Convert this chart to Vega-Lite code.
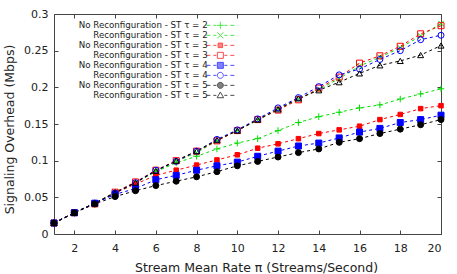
{
  "$schema": "https://vega.github.io/schema/vega-lite/v6.json",
  "width": 387,
  "height": 220,
  "autosize": {"type": "none"},
  "padding": {"left": 54, "top": 14, "right": 16, "bottom": 40},
  "config": {
    "font": "DejaVu Sans",
    "view": {"stroke": "#444", "strokeWidth": 1},
    "axis": {"labelFont": "DejaVu Sans", "titleFont": "DejaVu Sans", "labelColor": "#222", "titleColor": "#222", "tickColor": "#444", "labelFontSize": 11, "titleFontSize": 12.5, "titleFontWeight": "normal", "grid": false, "domain": false, "tickSize": -4},
    "legend": {"labelFont": "DejaVu Sans", "labelFontSize": 8.7, "labelColor": "#222", "padding": 0, "offset": 0}
  },
  "data": {"values": [
    {"x":1,"s":"No Reconfiguration - ST τ = 2","v":0.015},{"x":2,"s":"No Reconfiguration - ST τ = 2","v":0.029},{"x":3,"s":"No Reconfiguration - ST τ = 2","v":0.042},{"x":4,"s":"No Reconfiguration - ST τ = 2","v":0.057},{"x":5,"s":"No Reconfiguration - ST τ = 2","v":0.070},{"x":6,"s":"No Reconfiguration - ST τ = 2","v":0.085},{"x":7,"s":"No Reconfiguration - ST τ = 2","v":0.097},{"x":8,"s":"No Reconfiguration - ST τ = 2","v":0.106},{"x":9,"s":"No Reconfiguration - ST τ = 2","v":0.116},{"x":10,"s":"No Reconfiguration - ST τ = 2","v":0.124},{"x":11,"s":"No Reconfiguration - ST τ = 2","v":0.130},{"x":12,"s":"No Reconfiguration - ST τ = 2","v":0.141},{"x":13,"s":"No Reconfiguration - ST τ = 2","v":0.152},{"x":14,"s":"No Reconfiguration - ST τ = 2","v":0.160},{"x":15,"s":"No Reconfiguration - ST τ = 2","v":0.166},{"x":16,"s":"No Reconfiguration - ST τ = 2","v":0.172},{"x":17,"s":"No Reconfiguration - ST τ = 2","v":0.176},{"x":18,"s":"No Reconfiguration - ST τ = 2","v":0.184},{"x":19,"s":"No Reconfiguration - ST τ = 2","v":0.191},{"x":20,"s":"No Reconfiguration - ST τ = 2","v":0.198},
    {"x":1,"s":"Reconfiguration - ST τ = 2","v":0.015},{"x":2,"s":"Reconfiguration - ST τ = 2","v":0.029},{"x":3,"s":"Reconfiguration - ST τ = 2","v":0.042},{"x":4,"s":"Reconfiguration - ST τ = 2","v":0.057},{"x":5,"s":"Reconfiguration - ST τ = 2","v":0.070},{"x":6,"s":"Reconfiguration - ST τ = 2","v":0.086},{"x":7,"s":"Reconfiguration - ST τ = 2","v":0.099},{"x":8,"s":"Reconfiguration - ST τ = 2","v":0.111},{"x":9,"s":"Reconfiguration - ST τ = 2","v":0.127},{"x":10,"s":"Reconfiguration - ST τ = 2","v":0.141},{"x":11,"s":"Reconfiguration - ST τ = 2","v":0.155},{"x":12,"s":"Reconfiguration - ST τ = 2","v":0.170},{"x":13,"s":"Reconfiguration - ST τ = 2","v":0.184},{"x":14,"s":"Reconfiguration - ST τ = 2","v":0.197},{"x":15,"s":"Reconfiguration - ST τ = 2","v":0.212},{"x":16,"s":"Reconfiguration - ST τ = 2","v":0.229},{"x":17,"s":"Reconfiguration - ST τ = 2","v":0.241},{"x":18,"s":"Reconfiguration - ST τ = 2","v":0.254},{"x":19,"s":"Reconfiguration - ST τ = 2","v":0.270},{"x":20,"s":"Reconfiguration - ST τ = 2","v":0.287},
    {"x":1,"s":"No Reconfiguration - ST τ = 3","v":0.015},{"x":2,"s":"No Reconfiguration - ST τ = 3","v":0.029},{"x":3,"s":"No Reconfiguration - ST τ = 3","v":0.042},{"x":4,"s":"No Reconfiguration - ST τ = 3","v":0.056},{"x":5,"s":"No Reconfiguration - ST τ = 3","v":0.068},{"x":6,"s":"No Reconfiguration - ST τ = 3","v":0.080},{"x":7,"s":"No Reconfiguration - ST τ = 3","v":0.087},{"x":8,"s":"No Reconfiguration - ST τ = 3","v":0.094},{"x":9,"s":"No Reconfiguration - ST τ = 3","v":0.101},{"x":10,"s":"No Reconfiguration - ST τ = 3","v":0.108},{"x":11,"s":"No Reconfiguration - ST τ = 3","v":0.117},{"x":12,"s":"No Reconfiguration - ST τ = 3","v":0.123},{"x":13,"s":"No Reconfiguration - ST τ = 3","v":0.130},{"x":14,"s":"No Reconfiguration - ST τ = 3","v":0.137},{"x":15,"s":"No Reconfiguration - ST τ = 3","v":0.142},{"x":16,"s":"No Reconfiguration - ST τ = 3","v":0.147},{"x":17,"s":"No Reconfiguration - ST τ = 3","v":0.156},{"x":18,"s":"No Reconfiguration - ST τ = 3","v":0.163},{"x":19,"s":"No Reconfiguration - ST τ = 3","v":0.171},{"x":20,"s":"No Reconfiguration - ST τ = 3","v":0.175},
    {"x":1,"s":"Reconfiguration - ST τ = 3","v":0.015},{"x":2,"s":"Reconfiguration - ST τ = 3","v":0.029},{"x":3,"s":"Reconfiguration - ST τ = 3","v":0.041},{"x":4,"s":"Reconfiguration - ST τ = 3","v":0.057},{"x":5,"s":"Reconfiguration - ST τ = 3","v":0.071},{"x":6,"s":"Reconfiguration - ST τ = 3","v":0.087},{"x":7,"s":"Reconfiguration - ST τ = 3","v":0.100},{"x":8,"s":"Reconfiguration - ST τ = 3","v":0.113},{"x":9,"s":"Reconfiguration - ST τ = 3","v":0.127},{"x":10,"s":"Reconfiguration - ST τ = 3","v":0.141},{"x":11,"s":"Reconfiguration - ST τ = 3","v":0.156},{"x":12,"s":"Reconfiguration - ST τ = 3","v":0.169},{"x":13,"s":"Reconfiguration - ST τ = 3","v":0.183},{"x":14,"s":"Reconfiguration - ST τ = 3","v":0.199},{"x":15,"s":"Reconfiguration - ST τ = 3","v":0.214},{"x":16,"s":"Reconfiguration - ST τ = 3","v":0.233},{"x":17,"s":"Reconfiguration - ST τ = 3","v":0.243},{"x":18,"s":"Reconfiguration - ST τ = 3","v":0.256},{"x":19,"s":"Reconfiguration - ST τ = 3","v":0.273},{"x":20,"s":"Reconfiguration - ST τ = 3","v":0.284},
    {"x":1,"s":"No Reconfiguration - ST τ = 4","v":0.015},{"x":2,"s":"No Reconfiguration - ST τ = 4","v":0.029},{"x":3,"s":"No Reconfiguration - ST τ = 4","v":0.042},{"x":4,"s":"No Reconfiguration - ST τ = 4","v":0.054},{"x":5,"s":"No Reconfiguration - ST τ = 4","v":0.062},{"x":6,"s":"No Reconfiguration - ST τ = 4","v":0.074},{"x":7,"s":"No Reconfiguration - ST τ = 4","v":0.080},{"x":8,"s":"No Reconfiguration - ST τ = 4","v":0.087},{"x":9,"s":"No Reconfiguration - ST τ = 4","v":0.093},{"x":10,"s":"No Reconfiguration - ST τ = 4","v":0.098},{"x":11,"s":"No Reconfiguration - ST τ = 4","v":0.106},{"x":12,"s":"No Reconfiguration - ST τ = 4","v":0.113},{"x":13,"s":"No Reconfiguration - ST τ = 4","v":0.120},{"x":14,"s":"No Reconfiguration - ST τ = 4","v":0.124},{"x":15,"s":"No Reconfiguration - ST τ = 4","v":0.131},{"x":16,"s":"No Reconfiguration - ST τ = 4","v":0.139},{"x":17,"s":"No Reconfiguration - ST τ = 4","v":0.144},{"x":18,"s":"No Reconfiguration - ST τ = 4","v":0.152},{"x":19,"s":"No Reconfiguration - ST τ = 4","v":0.156},{"x":20,"s":"No Reconfiguration - ST τ = 4","v":0.162},
    {"x":1,"s":"Reconfiguration - ST τ = 4","v":0.015},{"x":2,"s":"Reconfiguration - ST τ = 4","v":0.029},{"x":3,"s":"Reconfiguration - ST τ = 4","v":0.042},{"x":4,"s":"Reconfiguration - ST τ = 4","v":0.056},{"x":5,"s":"Reconfiguration - ST τ = 4","v":0.070},{"x":6,"s":"Reconfiguration - ST τ = 4","v":0.087},{"x":7,"s":"Reconfiguration - ST τ = 4","v":0.099},{"x":8,"s":"Reconfiguration - ST τ = 4","v":0.113},{"x":9,"s":"Reconfiguration - ST τ = 4","v":0.129},{"x":10,"s":"Reconfiguration - ST τ = 4","v":0.142},{"x":11,"s":"Reconfiguration - ST τ = 4","v":0.157},{"x":12,"s":"Reconfiguration - ST τ = 4","v":0.172},{"x":13,"s":"Reconfiguration - ST τ = 4","v":0.186},{"x":14,"s":"Reconfiguration - ST τ = 4","v":0.201},{"x":15,"s":"Reconfiguration - ST τ = 4","v":0.217},{"x":16,"s":"Reconfiguration - ST τ = 4","v":0.225},{"x":17,"s":"Reconfiguration - ST τ = 4","v":0.238},{"x":18,"s":"Reconfiguration - ST τ = 4","v":0.250},{"x":19,"s":"Reconfiguration - ST τ = 4","v":0.265},{"x":20,"s":"Reconfiguration - ST τ = 4","v":0.271},
    {"x":1,"s":"No Reconfiguration - ST τ = 5","v":0.015},{"x":2,"s":"No Reconfiguration - ST τ = 5","v":0.029},{"x":3,"s":"No Reconfiguration - ST τ = 5","v":0.041},{"x":4,"s":"No Reconfiguration - ST τ = 5","v":0.051},{"x":5,"s":"No Reconfiguration - ST τ = 5","v":0.059},{"x":6,"s":"No Reconfiguration - ST τ = 5","v":0.066},{"x":7,"s":"No Reconfiguration - ST τ = 5","v":0.072},{"x":8,"s":"No Reconfiguration - ST τ = 5","v":0.078},{"x":9,"s":"No Reconfiguration - ST τ = 5","v":0.085},{"x":10,"s":"No Reconfiguration - ST τ = 5","v":0.093},{"x":11,"s":"No Reconfiguration - ST τ = 5","v":0.099},{"x":12,"s":"No Reconfiguration - ST τ = 5","v":0.105},{"x":13,"s":"No Reconfiguration - ST τ = 5","v":0.111},{"x":14,"s":"No Reconfiguration - ST τ = 5","v":0.116},{"x":15,"s":"No Reconfiguration - ST τ = 5","v":0.125},{"x":16,"s":"No Reconfiguration - ST τ = 5","v":0.130},{"x":17,"s":"No Reconfiguration - ST τ = 5","v":0.137},{"x":18,"s":"No Reconfiguration - ST τ = 5","v":0.143},{"x":19,"s":"No Reconfiguration - ST τ = 5","v":0.149},{"x":20,"s":"No Reconfiguration - ST τ = 5","v":0.156},
    {"x":1,"s":"Reconfiguration - ST τ = 5","v":0.015},{"x":2,"s":"Reconfiguration - ST τ = 5","v":0.029},{"x":3,"s":"Reconfiguration - ST τ = 5","v":0.042},{"x":4,"s":"Reconfiguration - ST τ = 5","v":0.056},{"x":5,"s":"Reconfiguration - ST τ = 5","v":0.070},{"x":6,"s":"Reconfiguration - ST τ = 5","v":0.086},{"x":7,"s":"Reconfiguration - ST τ = 5","v":0.100},{"x":8,"s":"Reconfiguration - ST τ = 5","v":0.113},{"x":9,"s":"Reconfiguration - ST τ = 5","v":0.128},{"x":10,"s":"Reconfiguration - ST τ = 5","v":0.141},{"x":11,"s":"Reconfiguration - ST τ = 5","v":0.156},{"x":12,"s":"Reconfiguration - ST τ = 5","v":0.170},{"x":13,"s":"Reconfiguration - ST τ = 5","v":0.185},{"x":14,"s":"Reconfiguration - ST τ = 5","v":0.196},{"x":15,"s":"Reconfiguration - ST τ = 5","v":0.207},{"x":16,"s":"Reconfiguration - ST τ = 5","v":0.219},{"x":17,"s":"Reconfiguration - ST τ = 5","v":0.230},{"x":18,"s":"Reconfiguration - ST τ = 5","v":0.236},{"x":19,"s":"Reconfiguration - ST τ = 5","v":0.244},{"x":20,"s":"Reconfiguration - ST τ = 5","v":0.257}
  ]},
  "layer": [
    {
      "mark": {"type": "line", "strokeDash": [3, 3], "strokeWidth": 1},
      "encoding": {
        "x": {"field": "x", "type": "quantitative", "scale": {"domain": [1, 20], "nice": false, "zero": false},
          "axis": {"orient": "bottom", "values": [2,4,6,8,10,12,14,16,18,20], "labelPadding": 12, "title": "Stream Mean Rate π (Streams/Second)", "titleX": 202, "titleY": 33, "titleBaseline": "middle"}},
        "y": {"field": "v", "type": "quantitative", "scale": {"domain": [0, 0.3], "nice": false},
          "axis": {"orient": "left", "values": [0,0.05,0.1,0.15,0.2,0.25,0.3], "format": "~g", "labelPadding": 10, "title": "Signaling Overhead (Mbps)", "titleX": -45, "titleY": 115, "titleBaseline": "middle", "titleAngle": -90}},
        "color": {"field": "s", "type": "nominal",
          "scale": {"domain": ["No Reconfiguration - ST τ = 2","Reconfiguration - ST τ = 2","No Reconfiguration - ST τ = 3","Reconfiguration - ST τ = 3","No Reconfiguration - ST τ = 4","Reconfiguration - ST τ = 4","No Reconfiguration - ST τ = 5","Reconfiguration - ST τ = 5"],
                    "range": ["#00dd00","#00dd00","#ff0000","#ff0000","#0000ff","#0000ff","#000000","#000000"]},
          "legend": null}
      }
    },
    {
      "mark": {"type": "point", "filled": false, "size": 36, "strokeWidth": 1, "opacity": 1},
      "encoding": {
        "x": {"field": "x", "type": "quantitative", "axis": {"orient": "top", "values": [2,4,6,8,10,12,14,16,18,20], "labels": false, "title": null}},
        "y": {"field": "v", "type": "quantitative", "axis": {"orient": "right", "values": [0,0.05,0.1,0.15,0.2,0.25,0.3], "labels": false, "title": null}},
        "color": {"field": "s", "type": "nominal", "legend": null,
          "scale": {"domain": ["No Reconfiguration - ST τ = 2","Reconfiguration - ST τ = 2","No Reconfiguration - ST τ = 3","Reconfiguration - ST τ = 3","No Reconfiguration - ST τ = 4","Reconfiguration - ST τ = 4","No Reconfiguration - ST τ = 5","Reconfiguration - ST τ = 5"],
                    "range": ["#00dd00","#00dd00","#ff0000","#ff0000","#0000ff","#0000ff","#000000","#000000"]}},
        "fill": {"field": "s", "type": "nominal", "legend": null,
          "scale": {"domain": ["No Reconfiguration - ST τ = 2","Reconfiguration - ST τ = 2","No Reconfiguration - ST τ = 3","Reconfiguration - ST τ = 3","No Reconfiguration - ST τ = 4","Reconfiguration - ST τ = 4","No Reconfiguration - ST τ = 5","Reconfiguration - ST τ = 5"],
                    "range": ["transparent","transparent","#ff0000","transparent","#0000ff","transparent","#000000","transparent"]}},
        "shape": {"field": "s", "type": "nominal", "legend": null,
          "scale": {"domain": ["No Reconfiguration - ST τ = 2","Reconfiguration - ST τ = 2","No Reconfiguration - ST τ = 3","Reconfiguration - ST τ = 3","No Reconfiguration - ST τ = 4","Reconfiguration - ST τ = 4","No Reconfiguration - ST τ = 5","Reconfiguration - ST τ = 5"],
                    "range": ["M-1.1,0H1.1M0,-1.1V1.1","M-0.9,-0.9L0.9,0.9M-0.9,0.9L0.9,-0.9","M-0.75,-0.75H0.75V0.75H-0.75Z","square","square","circle","circle","triangle-up"]}}
      }
    },
    {
      "transform": [{"filter": "false"}],
      "mark": {"type": "point", "filled": false, "size": 36, "strokeWidth": 1},
      "encoding": {
        "x": {"field": "x", "type": "quantitative", "axis": null},
        "y": {"field": "v", "type": "quantitative", "axis": null},
        "color": {"field": "s", "type": "nominal",
          "scale": {"domain": ["No Reconfiguration - ST τ = 2","Reconfiguration - ST τ = 2","No Reconfiguration - ST τ = 3","Reconfiguration - ST τ = 3","No Reconfiguration - ST τ = 4","Reconfiguration - ST τ = 4","No Reconfiguration - ST τ = 5","Reconfiguration - ST τ = 5"],
                    "range": ["#00dd00","#00dd00","#ff0000","#ff0000","#0000ff","#0000ff","#000000","#000000"]},
          "legend": {"orient": "none", "legendX": 141, "legendY": 7, "title": null, "symbolSize": 36, "symbolStrokeWidth": 1, "labelAlign": "right", "labelOffset": -17, "symbolOffset": 21, "rowPadding": -1.5,
            "symbolType": {"expr": "['M-4.67,0H-3.33M-2.33,0H-1.33M1.33,0H2.33M3.33,0H4.67M-1.17,0H1.17M0,-1.17V1.17','M-4.67,0H-3.33M-2.33,0H-1.33M1.33,0H2.33M3.33,0H4.67M-1,-1L1,1M-1,1L1,-1','M-4.67,0H-3.33M-2.33,0H-1.33M1.33,0H2.33M3.33,0H4.67M-0.75,-0.75H0.75V0.75H-0.75Z','M-4.67,0H-3.33M-2.33,0H-1.33M1.33,0H2.33M3.33,0H4.67M-1,-1H1V1H-1Z','M-4.67,0H-3.33M-2.33,0H-1.33M1.33,0H2.33M3.33,0H4.67M-1,-1H1V1H-1Z','M-4.67,0H-3.33M-2.33,0H-1.33M1.33,0H2.33M3.33,0H4.67M1,0A1,1 0 1,1 -1,0A1,1 0 1,1 1,0Z','M-4.67,0H-3.33M-2.33,0H-1.33M1.33,0H2.33M3.33,0H4.67M1,0A1,1 0 1,1 -1,0A1,1 0 1,1 1,0Z','M-4.67,0H-3.33M-2.33,0H-1.33M1.33,0H2.33M3.33,0H4.67M0,-1.1L1.1,0.8L-1.1,0.8Z'][indexof(['No Reconfiguration - ST τ = 2','Reconfiguration - ST τ = 2','No Reconfiguration - ST τ = 3','Reconfiguration - ST τ = 3','No Reconfiguration - ST τ = 4','Reconfiguration - ST τ = 4','No Reconfiguration - ST τ = 5','Reconfiguration - ST τ = 5'], datum.value)]"}}},
        "fill": {"field": "s", "type": "nominal",
          "scale": {"domain": ["No Reconfiguration - ST τ = 2","Reconfiguration - ST τ = 2","No Reconfiguration - ST τ = 3","Reconfiguration - ST τ = 3","No Reconfiguration - ST τ = 4","Reconfiguration - ST τ = 4","No Reconfiguration - ST τ = 5","Reconfiguration - ST τ = 5"],
                    "range": ["transparent","transparent","#ff0000","transparent","#0000ff","transparent","#000000","transparent"]}}
      }
    }
  ],
  "resolve": {
    "axis": {"x": "independent", "y": "independent"},
    "scale": {"color": "independent", "fill": "independent", "shape": "independent"},
    "legend": {"color": "independent", "fill": "independent", "shape": "independent"}
  }
}
